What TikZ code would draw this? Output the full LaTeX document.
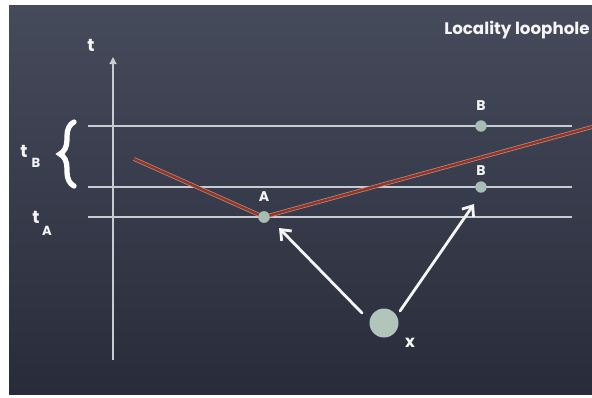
\documentclass[tikz,border=0pt]{standalone}
\usepackage{fontspec}
\setmainfont{Poppins}
\usetikzlibrary{arrows.meta,decorations.pathreplacing}
\definecolor{boardtop}{RGB}{70,75,92}
\definecolor{boardbot}{RGB}{40,44,58}
\definecolor{chalk}{RGB}{200,204,208}
\definecolor{dotc}{RGB}{168,190,180}
\definecolor{redline}{RGB}{150,52,36}
\begin{document}
\begin{tikzpicture}[x=0.02cm,y=-0.02cm,
  chalktext/.style={text=white!92!gray,inner sep=0pt,font=\bfseries\fontsize{8}{9}\selectfont},
  hline/.style={draw=chalk,line width=0.9pt},
  event/.style={circle,fill=dotc,minimum size=6.5pt,inner sep=0pt},
  source/.style={circle,fill=dotc!90!white,minimum size=16.5pt,inner sep=0pt},
  signal/.style={draw=white!92!gray,line width=1.6pt,line cap=round,
     -{Straight Barb[length=5pt,width=8pt,line width=1.6pt]}}
]
\useasboundingbox (0,0) rectangle (592,397);
\fill[white] (0,0) rectangle (592,397);
\shade[top color=boardtop,bottom color=boardbot] (9,5) rectangle (592,394);

% title
\node[chalktext,font=\bfseries\fontsize{9.5}{11}\selectfont,anchor=east] (title) at (590,30) {Locality loophole};

% time axis
\coordinate (axb) at (113,360);
\coordinate (axt) at (113,57);
\draw[draw=chalk,line width=0.8pt,-{Triangle[length=4pt,width=4pt]}] (axb) -- (axt);
\node[chalktext,font=\bfseries\fontsize{10}{11}\selectfont] (tlab) at (91,45) {t};

% horizontal time lines
\coordinate (l1a) at (88,126); \coordinate (l1b) at (572,126);
\coordinate (l2a) at (88,187); \coordinate (l2b) at (572,187);
\coordinate (l3a) at (88,217); \coordinate (l3b) at (572,217);
\draw[hline] (l1a) -- (l1b);
\draw[hline] (l2a) -- (l2b);
\draw[hline] (l3a) -- (l3b);

% light cone (red)
\coordinate (cl) at (134,159);
\coordinate (cr) at (592,127);
\node[event] (A) at (264,217) {};
\draw[draw=chalk!60!redline,line width=2.2pt] (cl) -- (A.center) -- (cr);
\draw[draw=redline,line width=1.4pt] (cl) -- (A.center) -- (cr);
\node[event] at (264,217) {};
\node[chalktext] (Alab) at (264,197) {A};

% B events
\node[event] (B1) at (481,126) {};
\node[event] (B2) at (481,187) {};
\node[chalktext] (B1lab) at (481,106) {B};
\node[chalktext] (B2lab) at (481,171) {B};

% source X
\node[source] (X) at (384,323) {};
\node[chalktext,font=\bfseries\fontsize{9.5}{11}\selectfont] (Xlab) at (410,343) {x};

% signals
\coordinate (s1a) at (362,313);
\coordinate (s1b) at (279,228);
\coordinate (s2a) at (400,311);
\coordinate (s2b) at (474,204);
\draw[signal] (s1a) -- (s1b);
\draw[signal] (s2a) -- (s2b);

% tB brace and labels
\coordinate (bra) at (74,186);
\coordinate (brb) at (74,122);
\draw[draw=white,line width=3pt,line cap=round,decorate,
  decoration={brace,amplitude=8pt,aspect=0.5}] (bra) -- (brb);
\node[chalktext,font=\bfseries\fontsize{10}{11}\selectfont] (tB) at (24,151) {t};
\node[chalktext,font=\bfseries\fontsize{7.5}{9}\selectfont] (tBs) at (36,163) {B};
\node[chalktext,font=\bfseries\fontsize{10}{11}\selectfont] (tA) at (36,217) {t};
\node[chalktext,font=\bfseries\fontsize{7.5}{9}\selectfont] (tAs) at (47,231) {A};
\end{tikzpicture}
\end{document}
